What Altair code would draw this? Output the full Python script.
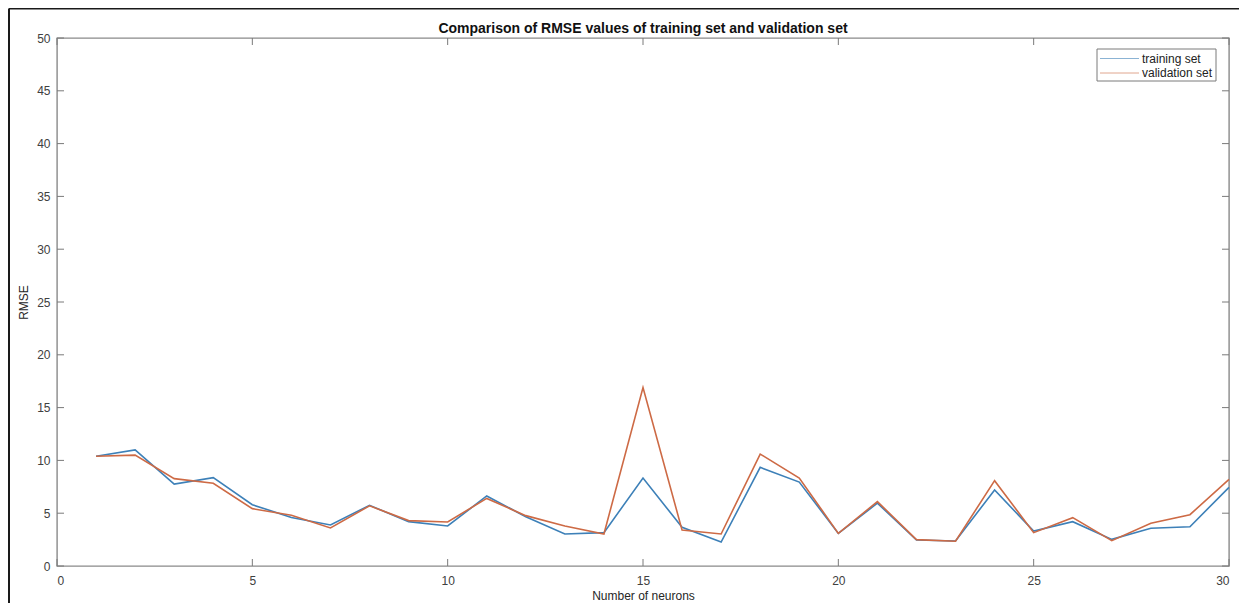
import altair as alt
import pandas as pd

neurons = list(range(1, 31))
training = [10.4, 11.0, 7.76, 8.37, 5.8, 4.6, 3.88, 5.75, 4.2, 3.79,
            6.63, 4.67, 3.03, 3.16, 8.33, 3.66, 2.27, 9.34, 7.95, 3.09,
            5.95, 2.46, 2.37, 7.2, 3.3, 4.2, 2.52, 3.57, 3.72, 7.45]
validation = [10.4, 10.5, 8.27, 7.83, 5.43, 4.8, 3.6, 5.7, 4.3, 4.17,
              6.4, 4.77, 3.79, 3.03, 16.9, 3.4, 3.03, 10.6, 8.33, 3.09,
              6.1, 2.5, 2.35, 8.08, 3.16, 4.58, 2.4, 4.04, 4.86, 8.2]
series_names = ["training set", "validation set"]
series_colors = ["#3d80b8", "#cd6a45"]
x_ticks = [0, 5, 10, 15, 20, 25, 30]
y_ticks = [0, 5, 10, 15, 20, 25, 30, 35, 40, 45, 50]
title_text = "Comparison of RMSE values of training set and validation set"

W, H = 1172, 528
FONT = "Liberation Sans"

df = pd.DataFrame({
    "neurons": neurons * 2,
    "rmse": training + validation,
    "series": [series_names[0]] * len(neurons) + [series_names[1]] * len(neurons),
})

xs = alt.Scale(domain=[0, 30], nice=False, zero=False)
ys = alt.Scale(domain=[0, 50], nice=False)
cs = alt.Scale(domain=series_names, range=series_colors)

x_enc = alt.X("neurons:Q", scale=xs, axis=alt.Axis(
    values=x_ticks, title="Number of neurons", ticks=False, domain=False, grid=False,
    labelPadding=9, titlePadding=4))
y_enc = alt.Y("rmse:Q", scale=ys, axis=alt.Axis(
    values=y_ticks, title="RMSE", ticks=False, domain=False, grid=False,
    labelPadding=7, titlePadding=6))

base = alt.Chart(df).mark_line(strokeWidth=1.6).encode(
    x=x_enc, y=y_enc, color=alt.Color("series:N", scale=cs, legend=None))
train_line = base.transform_filter(alt.datum.series == series_names[0])
val_line = base.transform_filter(alt.datum.series == series_names[1])

xt = pd.DataFrame({"t": x_ticks})
yt = pd.DataFrame({"t": y_ticks})
tick_col = "#7a7a7a"
xtick_b = alt.Chart(xt).mark_rule(color=tick_col).encode(
    x=alt.X("t:Q", scale=xs), y=alt.value(H - 7), y2=alt.value(H))
xtick_t = alt.Chart(xt).mark_rule(color=tick_col).encode(
    x=alt.X("t:Q", scale=xs), y=alt.value(0), y2=alt.value(7))
ytick_l = alt.Chart(yt).mark_rule(color=tick_col).encode(
    y=alt.Y("t:Q", scale=ys), x=alt.value(0), x2=alt.value(7))
ytick_r = alt.Chart(yt).mark_rule(color=tick_col).encode(
    y=alt.Y("t:Q", scale=ys), x=alt.value(W - 7), x2=alt.value(W))

one = pd.DataFrame({"a": [0]})
frame_top = alt.Chart(one).mark_rule(color="#1a1a1a", strokeWidth=2).encode(
    x=alt.value(-48), x2=alt.value(W + 20), y=alt.value(-29.5))
frame_left = alt.Chart(one).mark_rule(color="#1a1a1a", strokeWidth=2).encode(
    x=alt.value(-48), y=alt.value(-29.5), y2=alt.value(H + 40))

title = alt.Chart(one).mark_text(text=title_text, font=FONT, fontSize=14, fontWeight="bold",
                                 color="#111111", align="center", baseline="alphabetic").encode(
    x=alt.value(W / 2), y=alt.value(-5))

# legend box (drawn like MATLAB's)
leg_box = alt.Chart(one).mark_rect(fill="white", stroke="#7a7a7a", strokeWidth=1).encode(
    x=alt.value(1040), x2=alt.value(1159), y=alt.value(11), y2=alt.value(43))
leg_rows = []
for name, col, yy in zip(series_names, series_colors, [20.5, 35.0]):
    leg_rows.append(alt.Chart(one).mark_rule(color=col, strokeWidth=1, opacity=0.6).encode(
        x=alt.value(1043), x2=alt.value(1082), y=alt.value(yy)))
    leg_rows.append(alt.Chart(one).mark_text(text=name, align="left", baseline="middle",
                                             font=FONT, fontSize=12, color="#222222").encode(
        x=alt.value(1085), y=alt.value(yy)))

chart = alt.layer(
    frame_top, frame_left, title, xtick_b, xtick_t, ytick_l, ytick_r, train_line, val_line,
    leg_box, *leg_rows
).properties(
    width=W, height=H,
    autosize=alt.AutoSizeParams(type="none"),
    padding={"left": 49, "top": 30, "right": 10, "bottom": 37},
).configure_view(
    stroke="#8a8a8a", strokeWidth=1.4
).configure_axis(
    labelFont=FONT, labelFontSize=12, labelColor="#404040",
    titleFont=FONT, titleFontSize=12, titleFontWeight="normal", titleColor="#262626"
)

chart.save("out.html", embed_options={"renderer": "svg", "actions": False})
